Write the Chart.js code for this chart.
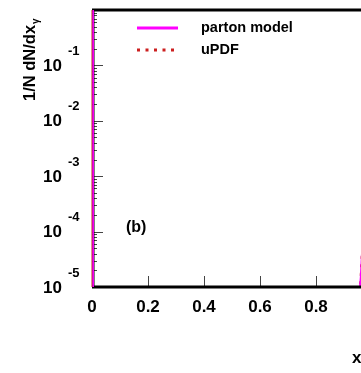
<!DOCTYPE html>
<html>
<head>
<meta charset="utf-8">
<script src="https://cdn.jsdelivr.net/npm/chart.js@4/dist/chart.umd.min.js"></script>
<style>
  html, body { margin: 0; padding: 0; overflow: hidden; background: #fff; }
  #wrap { width: 361px; height: 373px; overflow: hidden; }
</style>
</head>
<body>
<div id="wrap"><canvas id="chart" width="380" height="373"></canvas></div>
<script>
// x_gamma sampling points
const xValues = [0, 0.0005, 0.0015, 0.003, 0.93, 0.94, 0.95, 0.96, 0.97, 0.98, 0.99, 1.0];
// 1/N dN/dx_gamma
const partonModel = [20, 1e-2, 1e-5, 1e-7, 1e-7, 1e-6, 4e-6, 1.5e-5, 1.5e-4, 2e-3, 2e-2, 1e-1];
const uPDF        = [20, 1.1e-2, 1.1e-5, 1.2e-7, 1.2e-7, 9e-7, 3.6e-6, 1.4e-5, 1.4e-4, 1.8e-3, 1.8e-2, 1e-1];
const seriesNames = ['parton model', 'uPDF'];
const xTickLabels = ['0', '0.2', '0.4', '0.6', '0.8', '1'];
const yTickExponents = [-1, -2, -3, -4, -5];

const MAGENTA = '#ff00ff';
const RED = '#cc1f1f';
const BOLD = 'bold {s}px "Liberation Sans", Arial, sans-serif';
const font = s => BOLD.replace('{s}', s);

const toPoints = ys => xValues.map((x, i) => ({ x: x, y: ys[i] }));

// ticks, labels, frame and legend drawn on top of the chart area
const framePlugin = {
    id: 'frame',
    afterDraw(chart) {
        const ctx = chart.ctx;
        const a = chart.chartArea;
        const xs = chart.scales.x;
        const ys = chart.scales.y;
        ctx.save();

        // inside ticks on y (log, major + minor per decade)
        ctx.strokeStyle = '#444';
        ctx.lineWidth = 1;
        for (let e = -5; e <= 0; e++) {
            for (let m = 1; m <= 9; m++) {
                const v = m * Math.pow(10, e);
                if (v > ys.max * 1.0001) continue;
                const py = Math.round(ys.getPixelForValue(v)) + 0.5;
                ctx.beginPath();
                ctx.moveTo(a.left, py);
                ctx.lineTo(a.left + (m === 1 ? 11 : 5), py);
                ctx.stroke();
            }
        }
        // inside ticks on x
        xs.ticks.forEach(t => {
            if (t.value <= 0) return;
            const px = Math.round(xs.getPixelForValue(t.value)) + 0.5;
            ctx.beginPath();
            ctx.moveTo(px, a.bottom);
            ctx.lineTo(px, a.bottom - 11);
            ctx.stroke();
        });

        // frame
        ctx.strokeStyle = '#000';
        ctx.lineWidth = 3;
        ctx.beginPath();
        ctx.moveTo(a.left, a.top);
        ctx.lineTo(a.right, a.top);
        ctx.moveTo(a.left, a.bottom);
        ctx.lineTo(a.right, a.bottom);
        ctx.stroke();
        ctx.lineWidth = 2;
        ctx.beginPath();
        ctx.moveTo(a.left + 1.5, a.top);
        ctx.lineTo(a.left + 1.5, a.bottom);
        ctx.stroke();
        // the curves run along the left edge
        ctx.strokeStyle = RED;
        ctx.lineWidth = 1;
        ctx.beginPath();
        ctx.moveTo(a.left, a.top);
        ctx.lineTo(a.left, a.bottom);
        ctx.stroke();
        ctx.strokeStyle = MAGENTA;
        ctx.lineWidth = 1.5;
        ctx.beginPath();
        ctx.moveTo(a.left + 1.2, a.top);
        ctx.lineTo(a.left + 1.2, a.bottom);
        ctx.stroke();

        // y tick labels 10^n
        ctx.fillStyle = '#000';
        yTickExponents.forEach(e => {
            const py = ys.getPixelForValue(Math.pow(10, e));
            ctx.font = font(17);
            ctx.textAlign = 'right';
            ctx.textBaseline = 'middle';
            ctx.fillText('10', 62, py + 1);
            ctx.font = font(13);
            ctx.textAlign = 'left';
            ctx.fillText(String(e), 68, py - 14);
        });

        // x tick labels
        ctx.font = font(17);
        ctx.textAlign = 'center';
        ctx.textBaseline = 'middle';
        xTickLabels.forEach(l => {
            ctx.fillText(l, xs.getPixelForValue(parseFloat(l)), 307);
        });

        // x axis title
        ctx.textAlign = 'left';
        ctx.font = font(17);
        ctx.fillText('x', 352, 358);
        ctx.font = font(12);
        ctx.fillText('\u03b3', 362, 364);

        // y axis title (rotated)
        ctx.save();
        ctx.translate(35, 101);
        ctx.rotate(-Math.PI / 2);
        ctx.textAlign = 'left';
        ctx.textBaseline = 'alphabetic';
        ctx.font = font(16.5);
        const ttl = '1/N dN/dx';
        ctx.fillText(ttl, 0, 0);
        const w = ctx.measureText(ttl).width;
        ctx.font = font(10);
        ctx.fillText('\u03b3', w + 1, 4);
        ctx.restore();

        // panel tag
        ctx.font = font(16);
        ctx.textAlign = 'left';
        ctx.fillText('(b)', 126, 228);

        // legend
        const ds = chart.data.datasets;
        const rows = [28, 50];
        ds.forEach((d, i) => {
            const y = rows[i];
            ctx.strokeStyle = d.borderColor;
            ctx.lineWidth = 3;
            ctx.setLineDash(d.borderDash || []);
            ctx.beginPath();
            ctx.moveTo(137, y);
            ctx.lineTo(178, y);
            ctx.stroke();
            ctx.setLineDash([]);
            ctx.fillStyle = '#000';
            ctx.font = font(14.5);
            ctx.textBaseline = 'middle';
            ctx.fillText(d.label, 201, y);
        });

        ctx.restore();
    }
};

new Chart(document.getElementById('chart'), {
    type: 'line',
    data: {
        datasets: [
            { label: seriesNames[0], data: toPoints(partonModel), borderColor: MAGENTA, borderWidth: 2, pointRadius: 0, tension: 0 },
            { label: seriesNames[1], data: toPoints(uPDF), borderColor: RED, borderWidth: 2.5, borderDash: [3, 5.5], pointRadius: 0, tension: 0 }
        ]
    },
    options: {
        responsive: false,
        animation: false,
        devicePixelRatio: 1,
        layout: { padding: { left: 92, top: 10, right: 8, bottom: 86 } },
        plugins: { legend: { display: false }, tooltip: { enabled: false } },
        scales: {
            x: { type: 'linear', min: 0, max: 1, display: false, ticks: { stepSize: 0.2 } },
            y: { type: 'logarithmic', min: 1e-5, max: 1, display: false }
        }
    },
    plugins: [framePlugin]
});
</script>
</body>
</html>
